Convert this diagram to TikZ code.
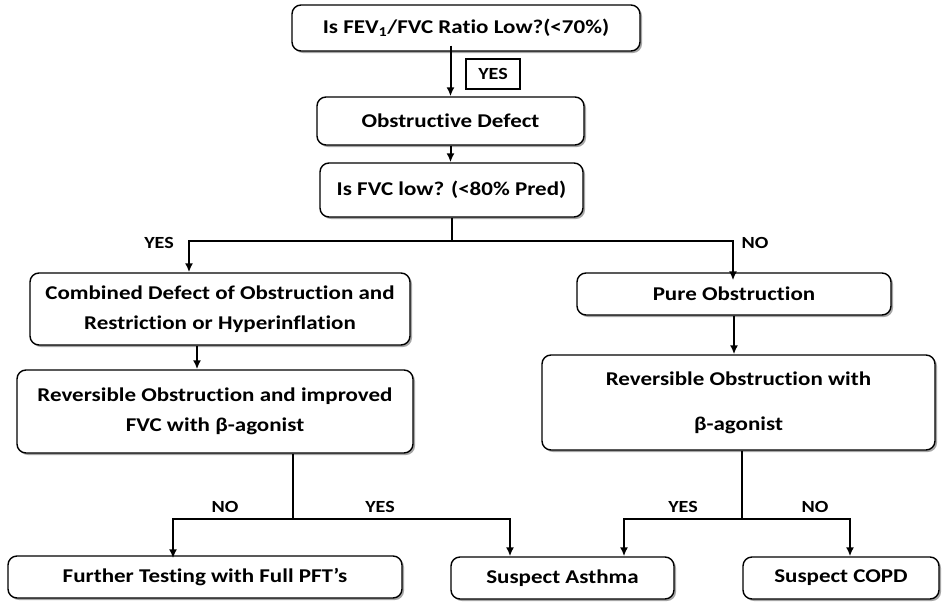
\documentclass[tikz,border=0pt]{standalone}
\usepackage{fontspec}
\setmainfont{Carlito}[FakeStretch=1.18,Ligatures=NoCommon]
\usetikzlibrary{arrows.meta,shadows}

\tikzset{
  box/.style={draw,line width=1.4pt,rounded corners=9pt,fill=white,align=center,
    inner sep=0pt,font=\bfseries\fontsize{19.5}{30}\selectfont,
    drop shadow={shadow xshift=2pt,shadow yshift=-2pt,fill=gray!70,opacity=1}},
  tag/.style={font=\bfseries\fontsize{17}{20}\selectfont},
  link/.style={line width=2pt}
}

\begin{document}
\begin{tikzpicture}[x=1pt,y=-1pt,>={Latex[length=9pt,width=8pt]}]
\useasboundingbox (0,0) rectangle (946,603);

\node[box,minimum width=348pt,minimum height=46pt] (ratio) at (466,28) {Is FEV\textsubscript{1}/FVC Ratio Low?(<70\%)};
\node[draw,line width=1.2pt,minimum width=54pt,minimum height=30pt,inner sep=0pt,tag] (yes0) at (493,74) {YES};
\node[box,minimum width=267pt,minimum height=48pt] (obs) at (450.5,121) {Obstructive Defect};
\node[box,minimum width=263pt,minimum height=54pt] (fvc) at (451.5,190) {Is FVC low? (<80\% Pred)};
\node[box,minimum width=380pt,minimum height=72pt] (comb) at (220,309) {Combined Defect of Obstruction and\\Restriction or Hyperinflation};
\node[box,minimum width=314pt,minimum height=42pt] (pure) at (734,294) {Pure Obstruction};
\node[box,minimum width=396pt,minimum height=83pt] (revl) at (215,411.5) {Reversible Obstruction and improved\\FVC with β-agonist};
\node[box,minimum width=393pt,minimum height=95pt] (revr) at (738.5,402.5) {Reversible Obstruction with\\[15pt]β-agonist};
\node[box,minimum width=394pt,minimum height=42pt] (further) at (205,577) {Further Testing with Full PFT’s};
\node[box,minimum width=223pt,minimum height=42pt] (asthma) at (562.5,578) {Suspect Asthma};
\node[box,minimum width=196pt,minimum height=42pt] (copd) at (841,578) {Suspect COPD};

\coordinate (j1) at (451.5,241);
\coordinate (j2) at (293,519);
\coordinate (j3) at (742,519);

\draw[link,->] ([yshift=6pt]ratio.south -| obs.north) -- (obs.north);
\draw[link,->] (obs.south) -- (obs.south |- fvc.north);
\draw[link] (fvc.south) -- (j1);
\draw[link,->] (j1) -| ([xshift=-31pt]comb.north);
\draw[link,->] (j1) -| ([xshift=-1pt,yshift=-8pt]pure.north);
\draw[link,->] ([xshift=-23pt]comb.south) -- ([xshift=-23pt]comb.south |- revl.north);
\draw[link,->] (pure.south) -- (pure.south |- revr.north);
\draw[link] ([xshift=78pt]revl.south) -- (j2);
\draw[link,->] (j2) -| ([xshift=-32pt,yshift=-3pt]further.north);
\draw[link,->] (j2) -| ([xshift=-52.5pt]asthma.north);
\draw[link] ([xshift=3.5pt]revr.south) -- (j3);
\draw[link,->] (j3) -| ([xshift=61.5pt]asthma.north);
\draw[link,->] (j3) -| ([xshift=9pt]copd.north);

\node[tag] (yes1) at (159,243) {YES};
\node[tag] (no1) at (755,243) {NO};
\node[tag] (no2) at (225,507) {NO};
\node[tag] (yes2) at (380,507) {YES};
\node[tag] (yes3) at (683,507) {YES};
\node[tag] (no3) at (815,507) {NO};
\end{tikzpicture}
\end{document}
